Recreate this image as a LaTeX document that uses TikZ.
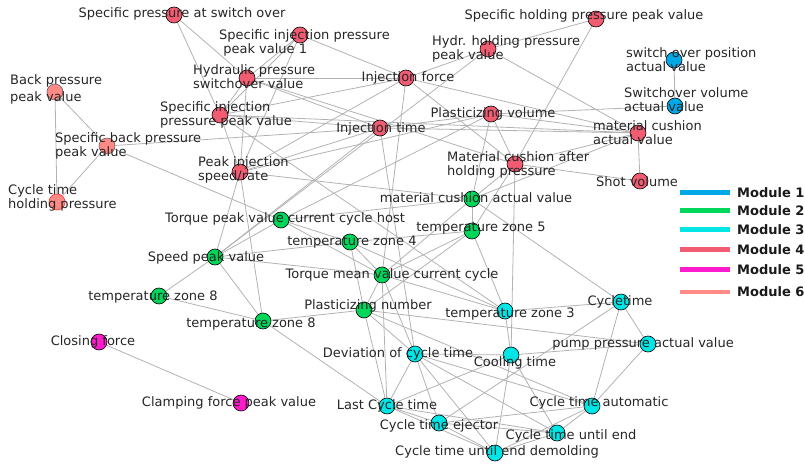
\documentclass[tikz,border=0pt]{standalone}
\usepackage{fontspec}
\setmainfont{DejaVu Sans}
\usetikzlibrary{backgrounds}
\definecolor{modone}{HTML}{00A8E8}
\definecolor{modtwo}{HTML}{00D65A}
\definecolor{modthree}{HTML}{00E5E5}
\definecolor{modfour}{HTML}{F25C72}
\definecolor{modfive}{HTML}{FF1ACB}
\definecolor{modsix}{HTML}{FF8A86}
\tikzstyle{vertex} = [circle, draw=black, line width=0.6pt, minimum size=16pt, inner sep=0pt]
\tikzstyle{link} = [draw=gray!60, line width=0.8pt]
\tikzstyle{nametext} = [inner sep=0pt, font=\fontsize{13}{14}\selectfont, text=black!85]
\tikzstyle{multitext} = [nametext, anchor=west, align=left]
\tikzstyle{legendline} = [line width=4.5pt]
\tikzstyle{legendtext} = [anchor=west, inner sep=0pt, font=\fontsize{13}{14}\selectfont\bfseries, text=black!90]

\begin{document}
\begin{tikzpicture}[x=1pt, y=-1pt]
	\useasboundingbox (0,0) rectangle (805,465);
	% module 4
	\node[vertex, fill=modfour] (spsw) at (174,15) {};
	\node[vertex, fill=modfour] (sip1) at (300,35) {};
	\node[vertex, fill=modfour] (hps) at (247,78) {};
	\node[vertex, fill=modfour] (sipp) at (220,115) {};
	\node[vertex, fill=modfour] (pis) at (240,172) {};
	\node[vertex, fill=modfour] (injf) at (406,78) {};
	\node[vertex, fill=modfour] (injt) at (380,128) {};
	\node[vertex, fill=modfour] (plv) at (491,114) {};
	\node[vertex, fill=modfour] (hhp) at (488,49) {};
	\node[vertex, fill=modfour] (shp) at (596,19) {};
	\node[vertex, fill=modfour] (mca) at (638,133) {};
	\node[vertex, fill=modfour] (mcah) at (515,164) {};
	\node[vertex, fill=modfour] (shv) at (640,181) {};
	% module 6
	\node[vertex, fill=modsix, draw=black!60] (bpp) at (55,92) {};
	\node[vertex, fill=modsix, draw=black!60] (sbp) at (107,146) {};
	\node[vertex, fill=modsix, draw=red!80] (cthp) at (57,202) {};
	% module 1
	\node[vertex, fill=modone] (sop) at (674,60) {};
	\node[vertex, fill=modone] (svol) at (675,106) {};
	% module 2
	\node[vertex, fill=modtwo] (mcg) at (472,199) {};
	\node[vertex, fill=modtwo] (tph) at (281,220) {};
	\node[vertex, fill=modtwo] (tz4) at (350,242) {};
	\node[vertex, fill=modtwo] (tz5) at (472,231) {};
	\node[vertex, fill=modtwo] (spv) at (215,257) {};
	\node[vertex, fill=modtwo] (tmv) at (382,275) {};
	\node[vertex, fill=modtwo] (tz8a) at (159,296) {};
	\node[vertex, fill=modtwo] (tz8b) at (263,321) {};
	\node[vertex, fill=modtwo] (pln) at (364,310) {};
	% module 3
	\node[vertex, fill=modthree] (tz3) at (505,311) {};
	\node[vertex, fill=modthree] (cyc) at (621,302) {};
	\node[vertex, fill=modthree] (ppa) at (648,344) {};
	\node[vertex, fill=modthree] (cool) at (511,355) {};
	\node[vertex, fill=modthree] (dev) at (415,354) {};
	\node[vertex, fill=modthree] (lct) at (387,406) {};
	\node[vertex, fill=modthree] (cte) at (439,423) {};
	\node[vertex, fill=modthree] (cta) at (592,406) {};
	\node[vertex, fill=modthree] (ctue) at (557,433) {};
	\node[vertex, fill=modthree] (ctud) at (495,453) {};
	% module 5
	\node[vertex, fill=modfive] (clf) at (99,342) {};
	\node[vertex, fill=modfive] (cfp) at (241,403) {};

	\begin{pgfonlayer}{background}
	\foreach \a/\b in {spsw/hps, spsw/sipp, sip1/hps, sip1/sipp, sip1/pis, sip1/injf,
		hps/injf, hps/injt, hps/mcah, hps/sipp, hps/pis, sipp/injf, sipp/injt, sipp/pis,
		sipp/tz3, sipp/mca, pis/injt, pis/plv, pis/mcg, pis/spv, pis/tz8b, pis/injf,
		injf/mca, injf/mcah, injf/hhp, injf/tmv, injt/mca, injt/plv, injt/dev,
		plv/svol, plv/mca, plv/mcah, plv/mcg, hhp/shp, hhp/mca, hhp/spv, shp/mcah,
		mca/shv, mca/mcah, mca/mcg, mcah/shv, mcah/cool, mcah/tz5, mcah/mcg,
		bpp/sbp, bpp/cthp, sbp/cthp, sbp/tph, sbp/injt, sop/svol,
		tph/plv, spv/injt,
		mcg/tz5, mcg/tph, mcg/cyc, mcg/tmv, tz5/tz4, tz5/tz3, tz5/tmv, tz5/pln,
		tph/spv, tph/tz4, tph/tmv, spv/tz8a, spv/tz8b, spv/tz4, spv/tmv,
		tz8a/tz8b, tz8b/pln, tz8b/lct, tz4/tmv, tz4/pln, tz4/tz3,
		tmv/pln, tmv/dev, tmv/tz3, tmv/lct, pln/ppa, pln/dev, pln/cta, pln/lct,
		tz3/cyc, cyc/ppa, cyc/cta, cyc/cte, cool/ppa, cool/dev, cool/lct, cool/ctue,
		cool/ctud, cool/tz3, dev/lct, dev/cte, dev/ctud, dev/ctue, dev/cta,
		lct/cte, lct/ctud, lct/ctue, cte/cta, cte/ctud, cte/ctue,
		cta/ctue, cta/ctud, cta/ppa, ctue/ctud, clf/cfp}
		\draw[link] (\a) -- (\b);
	\end{pgfonlayer}

	% labels
	\node[nametext] (spsw-t) at (182,14) {Specific pressure at switch over};
	\node[multitext] (sip1-t) at (219,43) {Specific injection pressure\\\ peak value 1};
	\node[multitext] (hps-t) at (193,77) {Hydraulic pressure\\switchover value};
	\node[multitext] (sipp-t) at (160,115) {Specific injection\\pressure peak value};
	\node[multitext] (pis-t) at (198,170) {Peak injection\\speed/rate};
	\node[nametext] (injf-t) at (408,78) {Injection force};
	\node[nametext] (injt-t) at (381,129) {Injection time};
	\node[nametext] (plv-t) at (493,114) {Plasticizing volume};
	\node[multitext] (hhp-t) at (432,49) {Hydr. holding pressure\\peak value};
	\node[nametext] (shp-t) at (584,16) {Specific holding pressure peak value};
	\node[multitext] (mca-t) at (593,133) {material cushion\\actual value};
	\node[multitext] (mcah-t) at (447,165) {Material cushion after\\holding pressure};
	\node[nametext] (shv-t) at (637,182) {Shot volume};
	\node[multitext, align=left] (bpp-t) at (10,89) {Back pressure\\[3pt]peak value};
	\node[multitext] (sbp-t) at (55,146) {Specific back pressure\\peak value};
	\node[multitext] (cthp-t) at (8,198) {Cycle time\\holding pressure};
	\node[multitext] (sop-t) at (626,60) {switch over position\\actual value};
	\node[multitext] (svol-t) at (624,100) {Switchover volume\\actual value};
	\node[nametext] (mcg-t) at (476,198) {material cushion actual value};
	\node[nametext] (tph-t) at (285,219) {Torque peak value current cycle host};
	\node[nametext] (tz4-t) at (352,242) {temperature zone 4};
	\node[nametext] (tz5-t) at (481,228) {temperature zone 5};
	\node[nametext] (spv-t) at (206,258) {Speed peak value};
	\node[nametext] (tmv-t) at (392,275) {Torque mean value current cycle};
	\node[nametext] (tz8a-t) at (153,297) {temperature zone 8};
	\node[nametext] (tz8b-t) at (251,324) {temperature zone 8};
	\node[nametext] (pln-t) at (368,306) {Plasticizing number};
	\node[nametext] (tz3-t) at (510,314) {temperature zone 3};
	\node[nametext] (cyc-t) at (620,302) {Cycletime};
	\node[nametext] (ppa-t) at (643,344) {pump pressure actual value};
	\node[nametext] (cool-t) at (515,363) {Cooling time};
	\node[nametext] (dev-t) at (398,354) {Deviation of cycle time};
	\node[nametext] (lct-t) at (387,406) {Last Cycle time};
	\node[nametext] (cte-t) at (439,426) {Cycle time ejector};
	\node[nametext] (cta-t) at (599,403) {Cycle time automatic};
	\node[nametext] (ctue-t) at (571,436) {Cycle time until end};
	\node[nametext] (ctud-t) at (497,452) {Cycle time until end demolding};
	\node[nametext] (clf-t) at (93,342) {Closing force};
	\node[nametext] (cfp-t) at (229,403) {Clamping force peak value};

	% legend
	\foreach \i/\c/\y in {1/modone/192.5, 2/modtwo/210.5, 3/modthree/229.5, 4/modfour/249.5, 5/modfive/269.5, 6/modsix/292}{
		\coordinate (leg\i-a) at (680,\y);
		\coordinate (leg\i-b) at (730,\y);
		\draw[legendline, \c] (leg\i-a) -- (leg\i-b);
		\node[legendtext] (leg\i-t) at (737,\y) {Module \i};
	}
\end{tikzpicture}
\end{document}
